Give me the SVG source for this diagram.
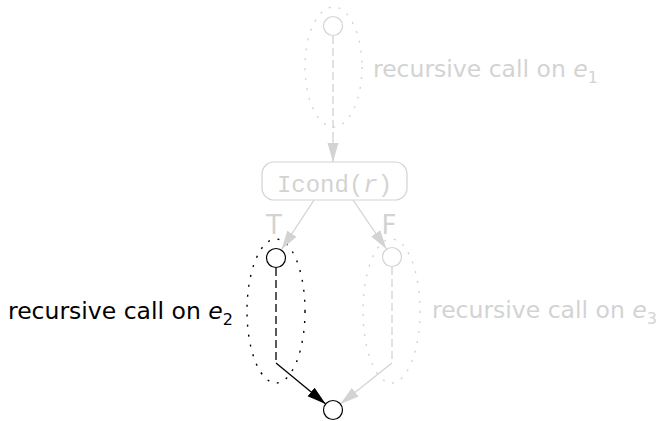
<svg xmlns="http://www.w3.org/2000/svg" width="661" height="421" viewBox="0 0 661 421">
  <style>
    .lbl { font-family: "DejaVu Sans", "Liberation Sans", sans-serif; font-size: 23.5px; }
    .big { font-size: 26px; }
    .sub { font-size: 16px; }
    .mono { font-family: "Liberation Mono", "DejaVu Sans Mono", monospace; font-size: 24px; }
    .grey { fill: #d3d3d3; }
    .dark { fill: #000000; }
    .node { fill: #ffffff; stroke-width: 1.2; }
    .scope { fill: none; stroke-width: 1.4; stroke-dasharray: 2 8; }
    .edge { fill: none; stroke-width: 1.3; }
    .dash { stroke-dasharray: 8 4; }
  </style>
  <defs>
    <marker id="ahGrey" markerUnits="userSpaceOnUse" markerWidth="19" markerHeight="12" refX="19" refY="6" orient="auto">
      <path d="M0,0.5 L19,6 L0,11.5 z" fill="#d3d3d3"/>
    </marker>
    <marker id="ahBlack" markerUnits="userSpaceOnUse" markerWidth="19" markerHeight="12" refX="19" refY="6" orient="auto">
      <path d="M0,0.5 L19,6 L0,11.5 z" fill="#000000"/>
    </marker>
  </defs>

  <!-- dotted outlines of the three recursive sub-graphs -->
  <g id="scopes">
    <ellipse class="scope" cx="333.5" cy="67" rx="28.5" ry="60" stroke="#d3d3d3"/>
    <ellipse class="scope" cx="276" cy="311" rx="29" ry="72" stroke="#000000"/>
    <ellipse class="scope" cx="391.5" cy="311" rx="28.5" ry="72" stroke="#d3d3d3"/>
  </g>

  <g id="connectors">
    <!-- e1 sub-graph into the condition -->
    <line class="edge dash" x1="333" y1="36" x2="333" y2="133" stroke="#d3d3d3"/>
    <line class="edge" x1="333" y1="133" x2="333" y2="162" stroke="#d3d3d3" marker-end="url(#ahGrey)"/>
    <!-- true / false branches -->
    <line class="edge" x1="314" y1="200" x2="281.5" y2="249.5" stroke="#d3d3d3" marker-end="url(#ahGrey)"/>
    <line class="edge" x1="353" y1="200" x2="386.5" y2="249" stroke="#d3d3d3" marker-end="url(#ahGrey)"/>
    <!-- e2 sub-graph to the join -->
    <line class="edge dash" x1="276" y1="268" x2="276" y2="363" stroke="#000000"/>
    <line class="edge" x1="276" y1="363" x2="325.7" y2="404" stroke="#000000" marker-end="url(#ahBlack)"/>
    <!-- e3 sub-graph to the join -->
    <line class="edge dash" x1="392" y1="267" x2="392" y2="363" stroke="#d3d3d3"/>
    <line class="edge" x1="392" y1="363" x2="340.4" y2="404.1" stroke="#d3d3d3" marker-end="url(#ahGrey)"/>
  </g>

  <g id="n-top">
    <circle class="node" cx="333" cy="26" r="9.5" stroke="#d3d3d3"/>
  </g>

  <g id="n-cond">
    <rect x="262" y="162" width="145" height="38" rx="12" fill="#ffffff" stroke="#d3d3d3" stroke-width="1.2"/>
    <text class="mono grey" x="334.5" y="192" text-anchor="middle">Icond(<tspan font-style="italic">r</tspan>)</text>
  </g>

  <g id="n-true">
    <circle class="node" cx="276" cy="258" r="9.5" stroke="#000000"/>
  </g>

  <g id="n-false">
    <circle class="node" cx="392" cy="257" r="9.5" stroke="#d3d3d3"/>
  </g>

  <g id="n-join">
    <circle class="node" cx="333" cy="410" r="9.5" stroke="#000000"/>
  </g>

  <!-- labels -->
  <g id="labels">
    <text class="lbl big grey" x="274" y="234" text-anchor="middle">T</text>
    <text class="lbl big grey" x="389" y="234" text-anchor="middle">F</text>
    <text class="lbl grey" x="373" y="77">recursive call on <tspan font-style="italic">e</tspan><tspan class="sub" dy="6">1</tspan></text>
    <text class="lbl dark" x="8" y="319">recursive call on <tspan font-style="italic">e</tspan><tspan class="sub" dy="6">2</tspan></text>
    <text class="lbl grey" x="432" y="318">recursive call on <tspan font-style="italic">e</tspan><tspan class="sub" dy="6">3</tspan></text>
  </g>
</svg>
